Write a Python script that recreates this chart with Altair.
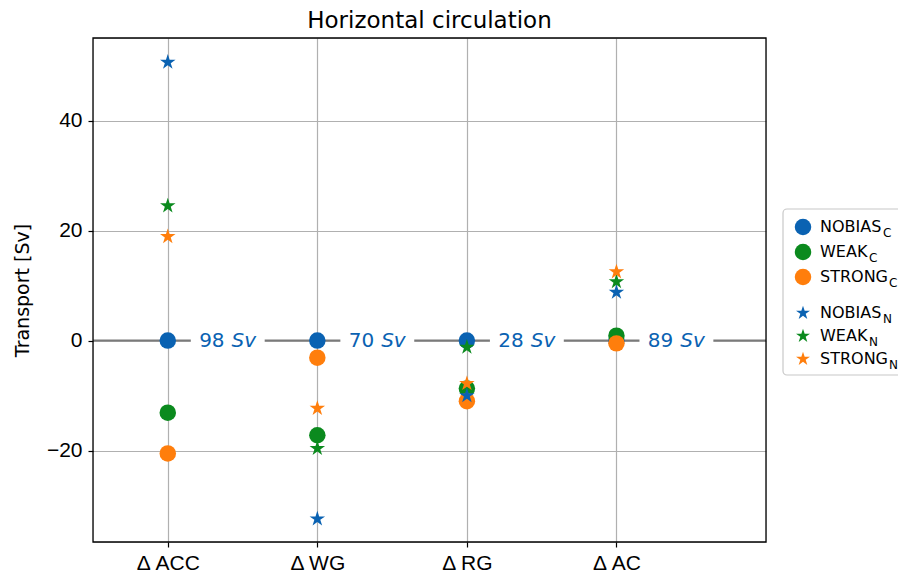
import math
import altair as alt
import pandas as pd

# ---------------- data ----------------
regions = ["Δ ACC", "Δ WG", "Δ RG", "Δ AC"]
totals = [98, 70, 28, 89]

nobias_c = [0.0, 0.0, 0.0, 0.0]
weak_c = [-13.1, -17.2, -8.7, 0.9]
strong_c = [-20.5, -3.1, -11.0, -0.5]

nobias_n = [50.6, -32.4, -10.0, 8.8]
weak_n = [24.5, -19.6, -1.2, 10.7]
strong_n = [18.9, -12.3, -7.8, 12.5]

models = ["NOBIAS", "WEAK", "STRONG"]
colors = ["#0a62b2", "#0b8a1e", "#ff7e0c"]
title_text = "Horizontal circulation"
y_title = "Transport [Sv]"

FONT = "DejaVu Sans"
GRID = "#b0b0b0"

# 5-point star path (unit box), like matplotlib's '*'
pts = []
for k in range(10):
    ang = math.radians(-90 + k * 36)
    r = 1.0 if k % 2 == 0 else 0.381966
    pts.append(f"{r*math.cos(ang):.4f},{r*math.sin(ang):.4f}")
STAR = "M" + " L".join(pts) + " Z"

rows = []
for m, vals in zip(models, [nobias_c, weak_c, strong_c]):
    for i, v in enumerate(vals):
        rows.append({"i": i, "v": v, "model": m, "kind": "C"})
for m, vals in zip(models, [nobias_n, weak_n, strong_n]):
    for i, v in enumerate(vals):
        rows.append({"i": i, "v": v, "model": m, "kind": "N"})
df = pd.DataFrame(rows)
df["order"] = range(len(df))

tot_df = pd.DataFrame({"i": list(range(len(totals))), "t": [str(t) for t in totals]})

W, H = 673, 504
xscale = alt.Scale(domain=[-0.5, 4.0], nice=False, zero=False)
yscale = alt.Scale(domain=[-36.6, 55.0], nice=False, zero=False)
label_expr = "[" + ",".join(f"'{r}'" for r in regions) + "][datum.value]"

xenc = alt.X("i:Q", scale=xscale,
             axis=alt.Axis(values=[0, 1, 2, 3], labelExpr=label_expr, title=None,
                           labelFontSize=21, labelPadding=5,
                           grid=True, gridColor=GRID, gridOpacity=1, gridWidth=1.2,
                           tickColor="black", tickSize=5, tickWidth=1.2, domain=False))
yenc = alt.Y("v:Q", scale=yscale,
             axis=alt.Axis(values=[-20, 0, 20, 40], title=y_title,
                           labelFontSize=21, labelPadding=6, titleFontSize=19,
                           titleFontWeight="normal", titleFont=FONT,
                           titleX=-71, titleY=H / 2, titleAngle=-90,
                           titleBaseline="middle", titleAlign="center",
                           grid=True, gridColor=GRID, gridOpacity=1, gridWidth=1.2,
                           tickColor="black", tickSize=5, tickWidth=1.2, domain=False))
colscale = alt.Scale(domain=models, range=colors)

base_pts = alt.Chart(df).encode(
    x=xenc, y=yenc,
    color=alt.Color("model:N", scale=colscale, legend=None),
    order=alt.Order("order:Q"),
)
circles = base_pts.transform_filter("datum.kind == 'C'").mark_point(
    shape="circle", filled=True, size=272, opacity=1)
stars = base_pts.transform_filter("datum.kind == 'N'").mark_point(
    shape=STAR, filled=True, size=265, opacity=1)

zero = alt.Chart(pd.DataFrame({"z": [0]})).mark_rule(color="#7a7a7a", strokeWidth=2).encode(
    y=alt.Y("z:Q", scale=yscale))

gaps = alt.Chart(tot_df).transform_calculate(
    a="datum.i + 0.154", b="datum.i + 0.648", lo="-1.4", hi="1.4"
).mark_rect(color="white", opacity=1).encode(
    x=alt.X("a:Q", scale=xscale), x2="b:Q",
    y=alt.Y("lo:Q", scale=yscale), y2="hi:Q")

tot_base = alt.Chart(tot_df).transform_calculate(p="datum.i + 0.40", z="0").encode(
    x=alt.X("p:Q", scale=xscale), y=alt.Y("z:Q", scale=yscale))
num_txt = tot_base.mark_text(align="right", baseline="middle", dx=-3, fontSize=20,
                             font=FONT, color=colors[0]).encode(text="t:N")
sv_txt = tot_base.mark_text(align="left", baseline="middle", dx=4, fontSize=20,
                            font=FONT, fontStyle="italic", color=colors[0], text="Sv")

one = pd.DataFrame({"k": [0]})
title_mark = alt.Chart(one).mark_text(
    text=title_text, align="center", baseline="alphabetic", fontSize=23, font=FONT,
    color="black").encode(x=alt.value(W / 2), y=alt.value(-10))

frame = alt.Chart(one).mark_rect(fill=None, filled=False, stroke="black", strokeWidth=1.3).encode(
    x=alt.value(0), x2=alt.value(W), y=alt.value(0), y2=alt.value(H))

# ---------------- manual legend (layout in pixels) ----------------
legend_layers = [
    alt.Chart(one).mark_rect(fill="white", stroke="#c8c8c8", strokeWidth=1.2,
                             cornerRadius=4, opacity=1).encode(
        x=alt.value(690), x2=alt.value(850), y=alt.value(171), y2=alt.value(337))
]
row_y = [189, 214, 239, 275, 298, 321]
sub_dx = [63, 49, 69]
entries = [(m, "C", c, "circle", 272) for m, c in zip(models, colors)] + \
          [(m, "N", c, STAR, 215) for m, c in zip(models, colors)]
for (m, sub, c, shp, sz), yy in zip(entries, row_y):
    j = models.index(m)
    legend_layers.append(alt.Chart(one).mark_point(
        shape=shp, filled=True, size=sz, color=c, opacity=1).encode(
        x=alt.value(710), y=alt.value(yy)))
    legend_layers.append(alt.Chart(one).mark_text(
        text=m, align="left", baseline="middle", fontSize=16, font=FONT, color="black").encode(
        x=alt.value(727), y=alt.value(yy)))
    legend_layers.append(alt.Chart(one).mark_text(
        text=sub, align="left", baseline="middle", fontSize=12, font=FONT, color="black").encode(
        x=alt.value(727 + sub_dx[j]), y=alt.value(yy + 6)))

chart = alt.layer(
    zero, gaps, num_txt, sv_txt, circles, stars, frame, title_mark, *legend_layers
).properties(
    width=W, height=H,
    autosize=alt.AutoSizeParams(type="none"),
    padding={"left": 93, "top": 38, "right": 132, "bottom": 33},
).configure_view(
    stroke=None
).configure_axis(
    labelFont=FONT, titleFont=FONT, labelColor="black", titleColor="black",
    titleFontWeight="normal",
).configure(background="white")

chart.save("out.html", embed_options={"renderer": "svg", "actions": False})
